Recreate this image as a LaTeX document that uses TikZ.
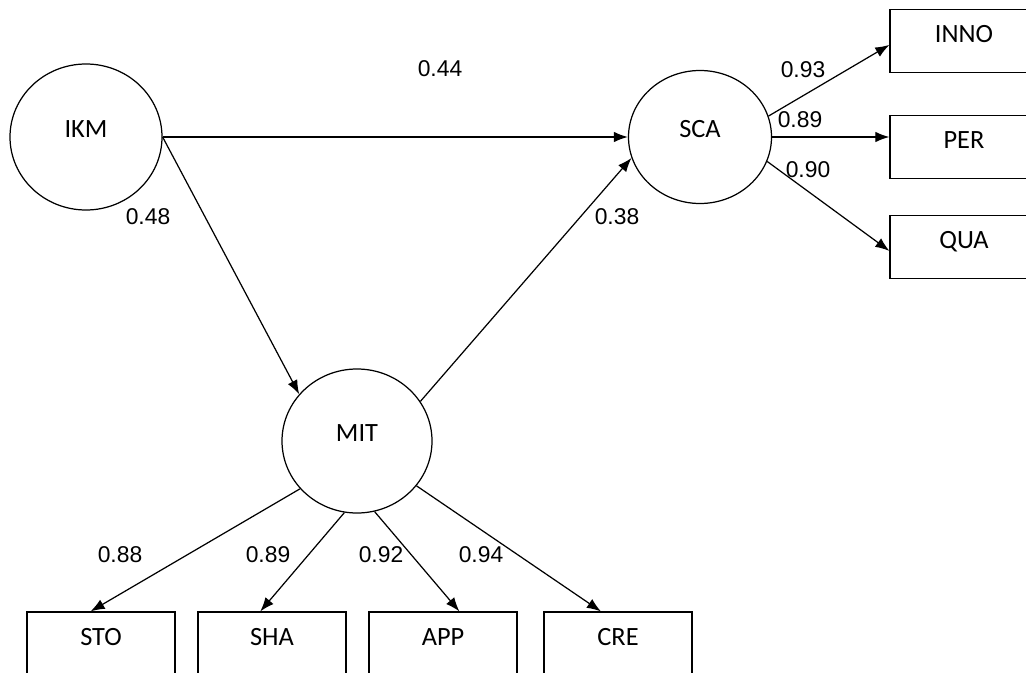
\documentclass[tikz,border=0pt]{standalone}
\usepackage{fontspec}
\setmainfont{Carlito}
\newfontfamily\numfont{Liberation Sans}
\usetikzlibrary{arrows.meta,shapes.geometric}
\newcommand{\pxunit}{0.02cm}
\tikzset{
    latsty/.style={draw,ellipse,line width=0.7pt,inner sep=0pt,text height=9.7pt,text depth=9pt,font=\fontsize{15}{18}\selectfont},
    obssty/.style={draw,rectangle,line width=0.7pt,minimum width=148*\pxunit,minimum height=63*\pxunit,text height=9.7pt,text depth=8pt,font=\fontsize{15}{18}\selectfont},
    wtsty/.style={inner sep=0pt,font=\numfont\fontsize{13}{15}\selectfont},
    pathsty/.style={->,line width=0.7pt},
}

\begin{document}
\begin{tikzpicture}[x=\pxunit,y=-\pxunit,>={Latex[length=8pt,width=6pt]}]
  \useasboundingbox (0,0) rectangle (1026,672);

  % latent variables
  \node[latsty,minimum width=152*\pxunit,minimum height=146*\pxunit] (IKM) at (86,137) {IKM};
  \node[latsty,minimum width=143*\pxunit,minimum height=133*\pxunit] (SCA) at (700,137) {SCA};
  \node[latsty,minimum width=150*\pxunit,minimum height=144*\pxunit] (MIT) at (357,441) {MIT};

  % indicators
  \node[obssty] (INNO) at (964,41) {INNO};
  \node[obssty] (PER) at (964,147) {PER};
  \node[obssty] (QUA) at (964,247) {QUA};
  \node[obssty] (STO) at (101,643.5) {STO};
  \node[obssty] (SHA) at (272,643.5) {SHA};
  \node[obssty] (APP) at (443,643.5) {APP};
  \node[obssty] (CRE) at (618,643.5) {CRE};

  % paths
  \draw[pathsty] (IKM.east) -- (SCA.west);
  \draw[pathsty] (IKM.east) -- (MIT.141);
  \draw[pathsty] (MIT.32) -- (SCA.197);
  \draw[pathsty] (SCA.17) -- (INNO.183);
  \draw[pathsty] (SCA.east) -- (SCA.east -| PER.west);
  \draw[pathsty] (SCA.340) -- (QUA.183);
  \draw[pathsty] (MIT.220) -- (STO.108);
  \draw[pathsty] (MIT.260) -- (SHA.110);
  \draw[pathsty] (MIT.284) -- (APP.63);
  \draw[pathsty] (MIT.323) -- (CRE.118);

  % loadings
  \node[wtsty] (w-ikm-sca) at (440,69) {0.44};
  \node[wtsty] (w-ikm-mit) at (148,217) {0.48};
  \node[wtsty] (w-mit-sca) at (617,217) {0.38};
  \node[wtsty] (w-inno) at (803,70) {0.93};
  \node[wtsty] (w-per) at (800,120) {0.89};
  \node[wtsty] (w-qua) at (808,170) {0.90};
  \node[wtsty] (w-sto) at (120,555) {0.88};
  \node[wtsty] (w-sha) at (268,555) {0.89};
  \node[wtsty] (w-app) at (381,555) {0.92};
  \node[wtsty] (w-cre) at (481,555) {0.94};
\end{tikzpicture}
\end{document}
